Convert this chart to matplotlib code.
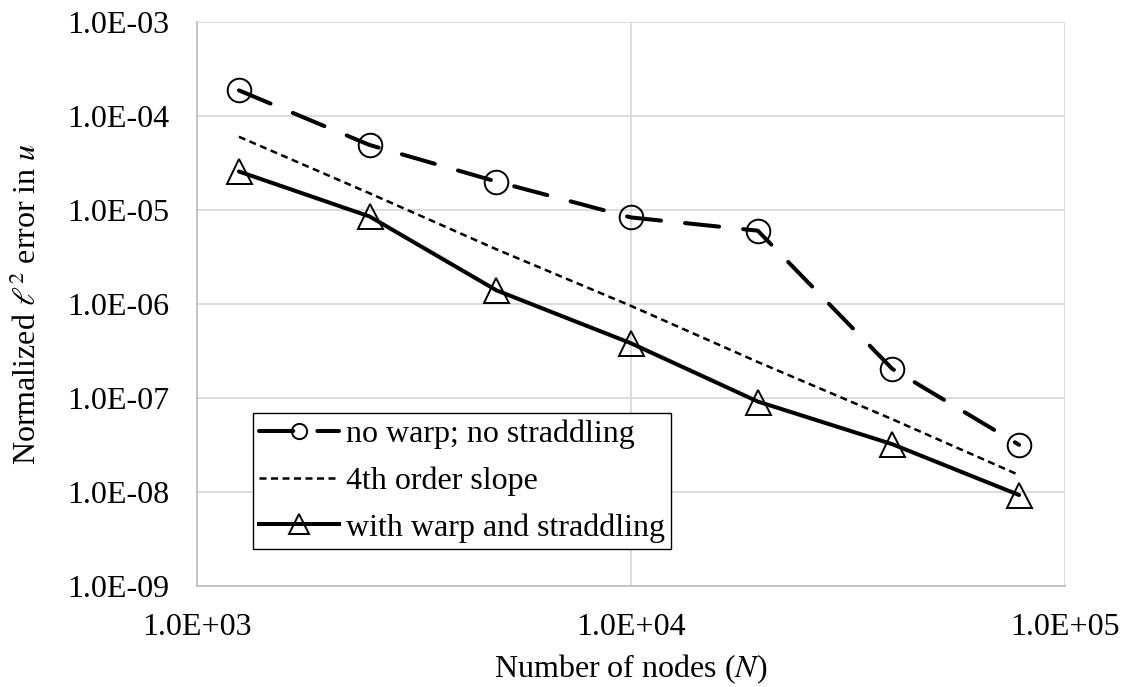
import matplotlib
matplotlib.use("Agg")
import matplotlib.pyplot as plt
from matplotlib.lines import Line2D
from matplotlib.ticker import FuncFormatter, LogLocator, NullLocator

# data
nodes = [1250, 2500, 4900, 10000, 19600, 40000, 78400]
err_no_warp = [1.87e-4, 4.9e-5, 2.0e-5, 8.3e-6, 6.0e-6, 2.03e-7, 3.15e-8]
slope_4th = [6.0e-5, 1.5e-5, 3.8e-6, 9.5e-7, 2.4e-7, 5.9e-8, 1.5e-8]
err_warp = [2.56e-5, 8.5e-6, 1.39e-6, 3.8e-7, 9.1e-8, 3.2e-8, 9.2e-9]

labels = ["no warp; no straddling", "4th order slope", "with warp and straddling"]

plt.rcParams["font.family"] = ["Liberation Serif", "DejaVu Serif"]
plt.rcParams["mathtext.fontset"] = "stix"
plt.rcParams["font.size"] = 23

fig = plt.figure(figsize=(11.25, 6.87), dpi=100)
ax = fig.add_axes([0.175, 0.1477, 0.7716, 0.8203])

long_dash = (0, (8.5, 6))
short_dash = (0, (2.8, 1.8))

ax.plot(nodes, err_no_warp, color="black", lw=2.9, linestyle=long_dash,
        dash_capstyle="round", marker="o", ms=17, mfc="none", mec="black", mew=1.4)
ax.plot(nodes, slope_4th, color="black", lw=1.8, linestyle=short_dash)
ax.plot(nodes, err_warp, color="black", lw=2.9, solid_capstyle="round",
        marker="^", ms=18, mfc="none", mec="black", mew=1.4)

ax.set_xscale("log")
ax.set_yscale("log")
ax.set_xlim(1e3, 1e5)
ax.set_ylim(1e-9, 1e-3)

fmt = FuncFormatter(lambda v, p: f"{v:.1E}")
ax.xaxis.set_major_locator(LogLocator(base=10))
ax.yaxis.set_major_locator(LogLocator(base=10, numticks=10))
ax.xaxis.set_minor_locator(NullLocator())
ax.yaxis.set_minor_locator(NullLocator())
ax.xaxis.set_major_formatter(fmt)
ax.yaxis.set_major_formatter(fmt)
ax.tick_params(length=0, pad=20)

ax.grid(True, color="#d9d9d9", lw=1.3)
ax.set_axisbelow(True)
for s in ["top", "right"]:
    ax.spines[s].set_visible(False)
for s in ["left", "bottom"]:
    ax.spines[s].set_color("#bfbfbf")
    ax.spines[s].set_linewidth(1.3)

ax.set_xlabel("Number of nodes ($N$)", labelpad=7)
ax.set_ylabel(r"Normalized $\ell^2$ error in $u$", labelpad=17)

handles = [
    Line2D([], [], color="black", lw=2.9, linestyle=long_dash, dash_capstyle="round",
           marker="o", ms=11, mfc="none", mec="black", mew=1.4),
    Line2D([], [], color="black", lw=1.8, linestyle=short_dash),
    Line2D([], [], color="black", lw=2.9, marker="^", ms=14, mfc="none", mec="black", mew=1.4),
]
leg = ax.legend(handles, labels, loc="lower left", bbox_to_anchor=(0.0645, 0.065),
                borderaxespad=0, fancybox=False, edgecolor="black", framealpha=1,
                handlelength=2.5, handletextpad=0.2, labelspacing=0.54,
                borderpad=0.2, fontsize=23)
leg.get_frame().set_linewidth(1.0)

fig.savefig("out.png", dpi=100)
